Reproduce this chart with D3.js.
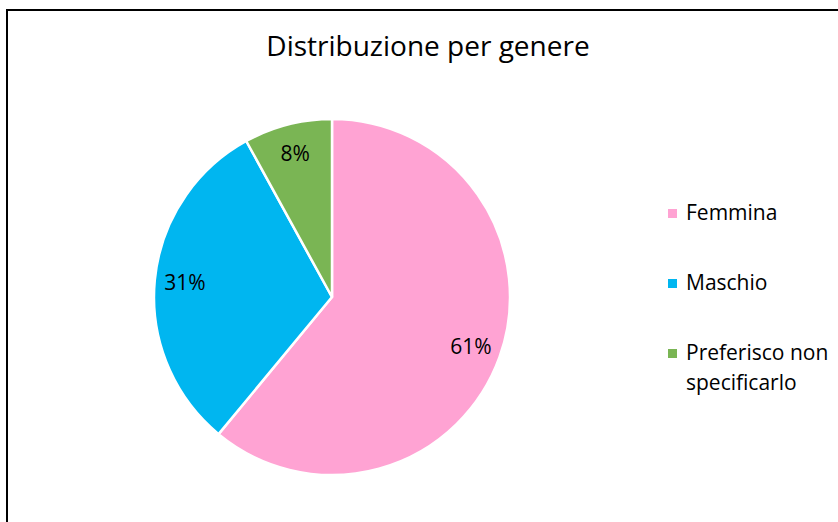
<!DOCTYPE html>
<html>
<head>
<meta charset="utf-8">
<script src="https://cdn.jsdelivr.net/npm/d3@7"></script>
<style>
  body { margin: 0; background: #fff; }
  text { font-family: "Open Sans", "Noto Sans", sans-serif; fill: #000; }
</style>
</head>
<body>
<svg id="chart" width="838" height="522"></svg>
<script>
// data
const categories = ['Femmina', 'Maschio', 'Preferisco non specificarlo'];
const values = [61, 31, 8];
const legendLines = [['Femmina'], ['Maschio'], ['Preferisco non', 'specificarlo']];
const colors = ['#ffa3d3', '#00b6f0', '#7ab554'];

let width = 838;
let height = 522;
let svg = d3.select('#chart');

// chart frame (runs off the right and bottom of the window)
svg.append('rect')
    .attr('x', 7)
    .attr('y', 10)
    .attr('width', 900)
    .attr('height', 600)
    .attr('fill', 'none')
    .attr('stroke', '#000')
    .attr('stroke-width', 2);

svg.append('text')
    .attr('x', 428)
    .attr('y', 56)
    .attr('text-anchor', 'middle')
    .style('font-size', '28px')
    .text('Distribuzione per genere');

let data = categories.map((c, i) => ({ name: c, value: values[i], color: colors[i] }));

let radius = 178;
let pieGroup = svg.append('g')
    .attr('transform', `translate(${332},${297})`);

let pie = d3.pie()
    .value(d => d.value)
    .sort(null);
let arc = d3.arc()
    .innerRadius(0)
    .outerRadius(radius);
let labelArc = d3.arc()
    .innerRadius(radius * 0.83)
    .outerRadius(radius * 0.83);

let arcs = pie(data);

pieGroup.selectAll('.slice')
    .data(arcs)
    .enter()
    .append('path')
    .classed('slice', true)
    .attr('d', arc)
    .attr('fill', d => d.data.color)
    .attr('stroke', '#fff')
    .attr('stroke-width', 2.5)
    .attr('stroke-linejoin', 'round');

let total = d3.sum(values);
pieGroup.selectAll('.label')
    .data(arcs)
    .enter()
    .append('text')
    .classed('label', true)
    .attr('transform', d => `translate(${labelArc.centroid(d)})`)
    .attr('text-anchor', 'middle')
    .attr('dy', '0.35em')
    .style('font-size', '21px')
    .text(d => Math.round(d.data.value / total * 100) + '%');

// legend
let legend = svg.append('g')
    .attr('transform', `translate(${668},${213})`);
let items = legend.selectAll('.item')
    .data(data)
    .enter()
    .append('g')
    .classed('item', true)
    .attr('transform', (d, i) => `translate(0,${i * 70})`);
items.append('rect')
    .attr('x', 0)
    .attr('y', -4)
    .attr('width', 9)
    .attr('height', 9)
    .attr('fill', d => d.color);
items.append('text')
    .attr('x', 18)
    .style('font-size', '21px')
    .each(function (d, i) {
        let t = d3.select(this);
        legendLines[i].forEach((line, j) => {
            t.append('tspan')
                .attr('x', 18)
                .attr('dy', j === 0 ? '0.35em' : '30px')
                .text(line);
        });
    });
</script>
</body>
</html>
